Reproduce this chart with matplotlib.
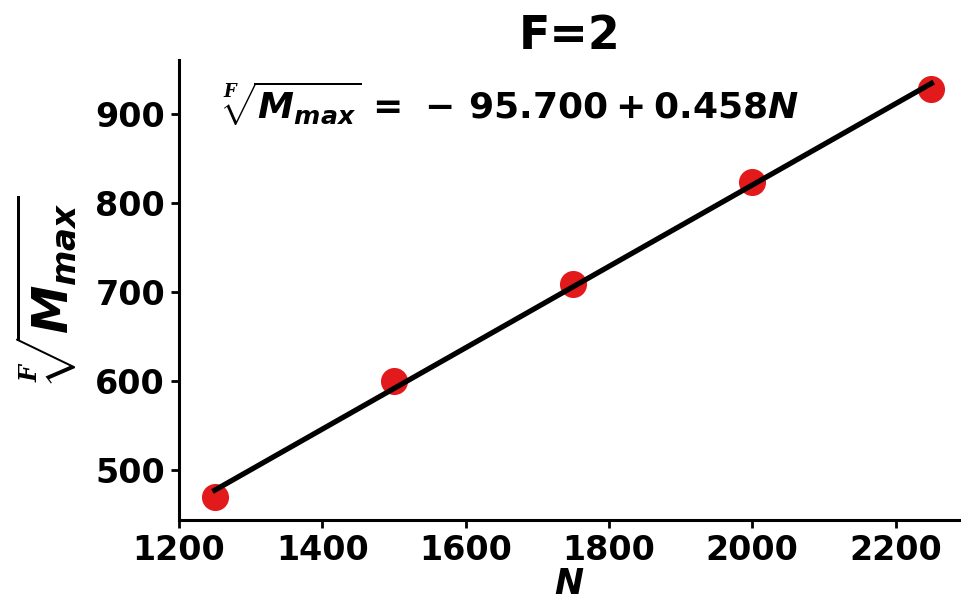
import matplotlib
matplotlib.use("Agg")
import matplotlib.pyplot as plt
import numpy as np

N_values = [1250, 1500, 1750, 2000, 2250]
root_M = [469, 600, 709, 824, 928]
intercept = -95.700
slope = 0.458
title = "F=2"

plt.rcParams['mathtext.fontset'] = 'custom'
plt.rcParams['mathtext.rm'] = 'DejaVu Sans:bold'
plt.rcParams['mathtext.it'] = 'DejaVu Sans:italic:bold'
plt.rcParams['mathtext.bf'] = 'DejaVu Sans:bold'
plt.rcParams['mathtext.sf'] = 'DejaVu Serif:italic:bold'
plt.rcParams['font.weight'] = 'bold'

fig = plt.figure(figsize=(9.62, 6.07), dpi=100)
ax = fig.add_axes([0.186, 0.143, 0.812, 0.758])

ax.scatter(N_values, root_M, s=380, color='#e31a1c', zorder=2, linewidths=0)
xs = np.array([N_values[0], N_values[-1]])
ax.plot(xs, intercept + slope * xs, color='black', lw=3.8, zorder=3)

ax.set_xlim(1200, 2290)
ax.set_ylim(443, 961)
ax.set_xticks([1200, 1400, 1600, 1800, 2000, 2200])
ax.set_yticks([500, 600, 700, 800, 900])
for s in ['top', 'right']:
    ax.spines[s].set_visible(False)
for s in ['left', 'bottom']:
    ax.spines[s].set_linewidth(2.2)
ax.tick_params(width=2, length=6, labelsize=24, pad=4)
for lab in ax.get_xticklabels() + ax.get_yticklabels():
    lab.set_fontweight('bold')

ax.set_title(title, fontsize=33, fontweight='bold', pad=8)
ax.set_xlabel('$N$', fontsize=25, labelpad=0)
ax.set_ylabel(r'$\sqrt[\mathsf{F}]{M_{max}}$', fontsize=35, labelpad=12)
intercept_str = f"{abs(intercept):.3f}"
slope_str = f"{slope:.3f}"
ax.text(0.055, 0.905,
        r'$\sqrt[\mathsf{F}]{M_{max}}\,=\,-\,' + intercept_str + ' + ' + slope_str + 'N$',
        transform=ax.transAxes, fontsize=26, va='center', ha='left')

fig.savefig('out.png', dpi=100)
